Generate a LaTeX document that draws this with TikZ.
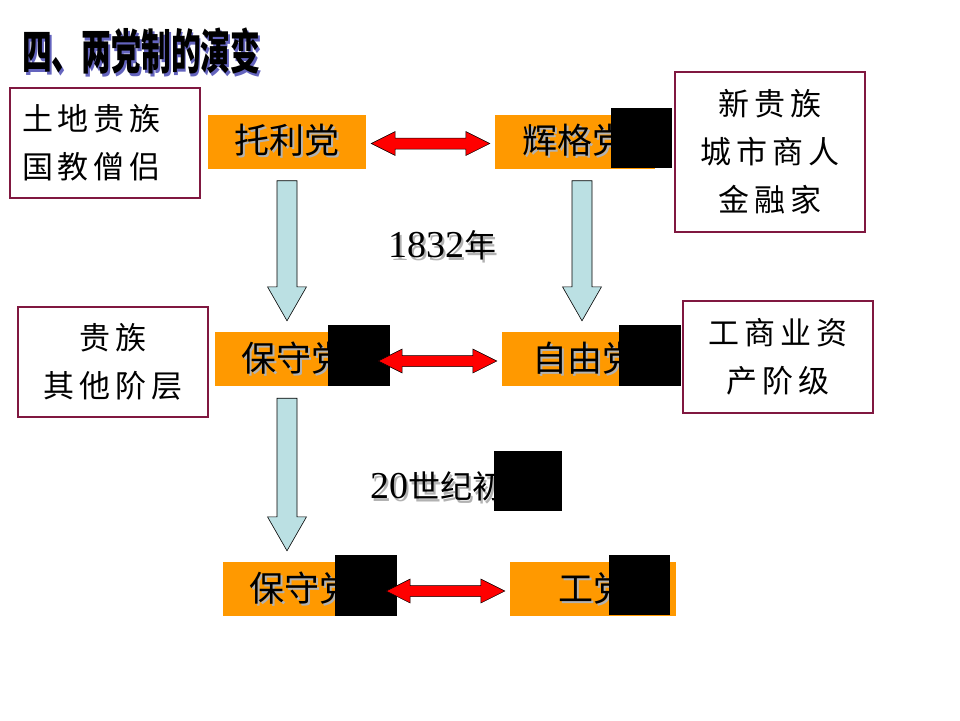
\documentclass[tikz,border=0pt]{standalone}
\usepackage{fontspec}
\usepackage{graphicx}
\setmainfont{Noto Sans CJK SC}
\newfontfamily\numfont{Liberation Serif}
\usetikzlibrary{calc,positioning}

\definecolor{partyorange}{RGB}{255,153,0}
\definecolor{boxred}{RGB}{128,24,64}
\definecolor{arrowblue}{RGB}{187,224,227}
\definecolor{titleshade}{RGB}{100,100,190}

% text with a dropped shadow
\newcommand{\shadowed}[3]{\makebox[0pt][l]{\kern#3\raisebox{-#3}{\color{#1}#2}}#2}
% red double arrow between two nodes
\newcommand{\pairarrow}[2]{%
  \draw[redarrow] let \p1=($(#1.east)+(0,2)$), \p2=(#2.west) in
    (\x1+5pt,\y1) -- (\x1+29pt,\y1+12pt) -- (\x1+29pt,\y1+5.5pt) -- (\x2-29pt,\y1+5.5pt)
    -- (\x2-29pt,\y1+12pt) -- (\x2-5pt,\y1) -- (\x2-29pt,\y1-12pt) -- (\x2-29pt,\y1-5.5pt)
    -- (\x1+29pt,\y1-5.5pt) -- (\x1+29pt,\y1-12pt) -- cycle;}
% fat blue arrow from one node down to another
\newcommand{\fatdown}[3]{%
  \draw[downarrow] let \p1=($(#1.south)+(#3,0)$), \p2=(#2.north) in
    (\x1-10pt,\y1-12pt) -- (\x1+10pt,\y1-12pt) -- (\x1+10pt,\y2+45pt) -- (\x1+19.5pt,\y2+45pt)
    -- (\x1,\y2+11pt) -- (\x1-19.5pt,\y2+45pt) -- (\x1-10pt,\y2+45pt) -- cycle;}

\begin{document}
\begin{tikzpicture}[x=1pt,y=-1pt]
  \tikzstyle{party}=[fill=partyorange,minimum width=158pt,minimum height=54pt,inner sep=0pt,font=\fontsize{35}{40}\selectfont]
  \tikzstyle{group}=[draw=boxred,line width=1.6pt,align=center,inner sep=0pt,font=\fontsize{31}{48}\selectfont\addfontfeature{LetterSpace=16}]
  \tikzstyle{cover}=[fill=black]
  \tikzstyle{redarrow}=[fill=red,draw=black,line width=0.5pt]
  \tikzstyle{downarrow}=[fill=arrowblue,draw=black,line width=0.6pt]
  \fill[white] (0,0) rectangle (960,720);
  \useasboundingbox (0,0) rectangle (960,720);

  \node[anchor=west,inner sep=0pt,font=\fontsize{48}{50}\selectfont\bfseries] (title) at (22,52)
    {\scalebox{0.62}[1]{\shadowed{titleshade}{四、两党制的演变}{3pt}}};

  % groups behind each party
  \node[group,minimum width=190pt,minimum height=110pt,text width=166pt,align=left] (landed) at (105,143) {土地贵族\\国教僧侣};
  \node[group,minimum width=190pt,minimum height=160pt] (newnoble) at (770,152) {新贵族\\城市商人\\金融家};
  \node[group,minimum width=190pt,minimum height=110pt] (others) at (113,362) {贵族\\其他阶层};
  \node[group,minimum width=190pt,minimum height=112pt] (bourg) at (778,357) {工商业资\\产阶级};

  % parties
  \node[party] (tory) at (287,141.5) {\shadowed{gray!60}{托利党}{2pt}};
  \node[party,minimum width=160pt] (whig) at (575,141.5) {\shadowed{gray!60}{辉格党}{2pt}};
  \node[party] (cons1) at (294,359) {\shadowed{gray!60}{保守党}{2pt}};
  \node[party,minimum width=166pt] (liberal) at (585,359) {\shadowed{gray!60}{自由党}{2pt}};
  \node[party] (cons2) at (302,589) {\shadowed{gray!60}{保守党}{2pt}};
  \node[party,minimum width=166pt] (labour) at (593,589) {\shadowed{gray!60}{工党}{2pt}};

  \node[anchor=west,inner sep=0pt,font=\fontsize{32}{36}\selectfont] (y1832) at (388,247)
    {\shadowed{gray!60}{{\numfont\fontsize{38}{38}\selectfont 1832}年}{2.5pt}};
  \node[anchor=west,inner sep=0pt,font=\fontsize{32}{36}\selectfont] (y1900) at (370,488)
    {\shadowed{gray!60}{{\numfont\fontsize{38}{38}\selectfont 20}世纪初}{2.5pt}};

  % black patches
  \fill[cover] (611,108) rectangle (672,168);
  \fill[cover] (328,325) rectangle (390,386);
  \fill[cover] (619,325) rectangle (681,386);
  \fill[cover] (494,451) rectangle (562,511);
  \fill[cover] (335,555) rectangle (397,616);
  \fill[cover] (609,555) rectangle (670,615);

  \pairarrow{tory}{whig}
  \pairarrow{cons1}{liberal}
  \pairarrow{cons2}{labour}

  \fatdown{tory}{cons1}{0}
  \fatdown{whig}{liberal}{7}
  \fatdown{cons1}{cons2}{-7}
\end{tikzpicture}
\end{document}
